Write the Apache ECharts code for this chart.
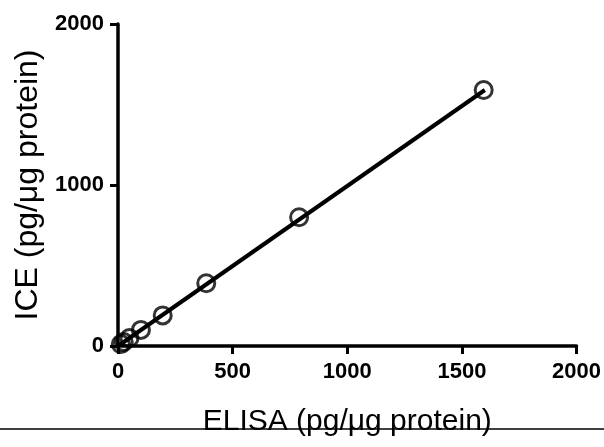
<!DOCTYPE html>
<html>
<head>
<meta charset="utf-8">
<script src="https://cdn.jsdelivr.net/npm/echarts@6/dist/echarts.min.js"></script>
<style>html,body{margin:0;padding:0;background:#fff}#c{width:604px;height:447px}</style>
</head>
<body>
<div id="c"></div>
<script>
// Data
const elisa = [12.5, 25, 50, 100, 195, 385, 790, 1595];
const ice = [12, 25, 50, 100, 190, 390, 800, 1590];
const fitX = [0, 1600];
const fitY = [0, 1590];
const xTicks = [0, 500, 1000, 1500, 2000];
const yTicks = [0, 1000, 2000];
const xTitle = 'ELISA (pg/\u03bcg protein)';
const yTitle = 'ICE (pg/\u03bcg protein)';

const chart = echarts.init(document.getElementById('c'), null, {renderer: 'canvas'});
const font = '"Liberation Sans", Arial, sans-serif';
chart.setOption({
  animation: false,
  backgroundColor: '#fff',
  grid: {left: 118, right: 26, top: 24, bottom: 101},
  xAxis: {
    type: 'value', min: xTicks[0], max: xTicks[xTicks.length - 1], interval: 500,
    name: xTitle, nameLocation: 'middle', nameGap: 61,
    nameTextStyle: {fontFamily: font, fontSize: 30, color: '#000'},
    axisLine: {lineStyle: {color: '#000', width: 3.5}},
    axisTick: {length: 8, lineStyle: {color: '#000', width: 3}},
    axisLabel: {margin: 15, fontFamily: font, fontSize: 22, fontWeight: 'bold', color: '#000',
      formatter: v => String(v)},
    splitLine: {show: false}
  },
  yAxis: {
    type: 'value', min: yTicks[0], max: yTicks[yTicks.length - 1], interval: 1000,
    name: yTitle, nameLocation: 'middle', nameGap: 74,
    nameTextStyle: {fontFamily: font, fontSize: 32, color: '#000'},
    axisLine: {lineStyle: {color: '#000', width: 3.5}},
    axisTick: {length: 8, lineStyle: {color: '#000', width: 3}},
    axisLabel: {margin: 14, fontFamily: font, fontSize: 22, fontWeight: 'bold', color: '#000',
      formatter: v => String(v)},
    splitLine: {show: false}
  },
  graphic: [{
    type: 'line', z: 100,
    shape: {x1: 0, y1: 429, x2: 604, y2: 429},
    style: {stroke: '#000', lineWidth: 1.5}
  }],
  series: [{
    type: 'line',
    data: fitX.map((x, i) => [x, fitY[i]]),
    symbol: 'none',
    lineStyle: {color: '#000', width: 4},
    z: 2
  }, {
    type: 'scatter',
    data: elisa.map((x, i) => [x, ice[i]]),
    symbol: 'circle', symbolSize: 17,
    clip: false,
    itemStyle: {color: 'rgba(0,0,0,0)', borderColor: '#000', borderWidth: 3},
    z: 3
  }]
});
</script>
</body>
</html>
